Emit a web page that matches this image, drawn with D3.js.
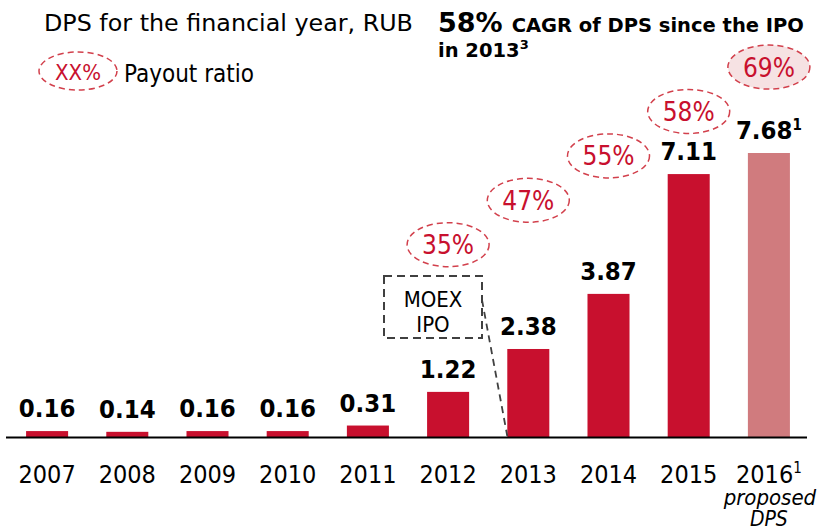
<!DOCTYPE html>
<html>
<head>
<meta charset="utf-8">
<script src="https://cdn.jsdelivr.net/npm/d3@7"></script>
<style>
  html, body { margin: 0; padding: 0; background: #fff; }
  svg text { font-family: "DejaVu Sans Condensed", "DejaVu Sans", sans-serif; font-stretch: condensed; }
  svg text.wide { font-family: "DejaVu Sans", sans-serif; font-stretch: normal; }
</style>
</head>
<body>
<svg id="chart" width="817" height="532"></svg>
<script>
// Data
const years = ['2007', '2008', '2009', '2010', '2011', '2012', '2013', '2014', '2015', '2016'];
const dps = [0.16, 0.14, 0.16, 0.16, 0.31, 1.22, 2.38, 3.87, 7.11, 7.68];
const dpsLabels = ['0.16', '0.14', '0.16', '0.16', '0.31', '1.22', '2.38', '3.87', '7.11', '7.68'];
const payoutYears = ['2012', '2013', '2014', '2015', '2016'];
const payoutRatio = ['35%', '47%', '55%', '58%', '69%'];
const proposedYear = '2016';

const red = '#c8102e';
const pink = '#d07b7e';

const svg = d3.select('#chart');

const x = d3.scaleBand()
  .domain(years)
  .range([7, 809])
  .paddingInner(0.476)
  .paddingOuter(0.238);

const y = d3.scaleLinear()
  .domain([0, 7.68])
  .range([437, 153]);

// Header texts
svg.append('text')
  .attr('class', 'wide')
  .attr('x', 44).attr('y', 31)
  .attr('font-size', '23.8px')
  .attr('fill', '#000')
  .text('DPS for the financial year, RUB');

// Legend
svg.append('ellipse')
  .attr('cx', 78).attr('cy', 71).attr('rx', 39).attr('ry', 19)
  .attr('fill', 'none')
  .attr('stroke', '#d2404c')
  .attr('stroke-width', 1.5)
  .attr('stroke-dasharray', '6,4');

svg.append('text')
  .attr('x', 78).attr('y', 80)
  .attr('text-anchor', 'middle')
  .attr('font-size', '22px')
  .attr('fill', red)
  .text('XX%');

svg.append('text')
  .attr('x', 124).attr('y', 82)
  .attr('font-size', '24px')
  .attr('fill', '#000')
  .text('Payout ratio');

const cagr = svg.append('text')
  .attr('class', 'wide')
  .attr('x', 438).attr('y', 32)
  .attr('font-weight', 'bold')
  .attr('fill', '#000');
cagr.append('tspan').attr('font-size', '27px').text('58%');
cagr.append('tspan').attr('font-size', '19.5px').attr('dx', 9).text('CAGR of DPS since the IPO');

const ipoLine = svg.append('text')
  .attr('class', 'wide')
  .attr('x', 438).attr('y', 57)
  .attr('font-weight', 'bold')
  .attr('font-size', '19.5px')
  .attr('fill', '#000');
ipoLine.append('tspan').text('in 2013');
ipoLine.append('tspan').attr('font-size', '13px').attr('dy', -8).text('3');

// Bars
svg.append('g')
  .selectAll('rect')
  .data(years)
  .join('rect')
  .attr('x', d => x(d))
  .attr('y', (d, i) => y(dps[i]))
  .attr('width', x.bandwidth())
  .attr('height', (d, i) => y(0) - y(dps[i]))
  .attr('fill', d => d === proposedYear ? pink : red);

// Baseline
svg.append('line')
  .attr('x1', 6).attr('x2', 807)
  .attr('y1', 437.5).attr('y2', 437.5)
  .attr('stroke', '#000')
  .attr('stroke-width', 2);

// Value labels
const vals = svg.append('g')
  .selectAll('text')
  .data(years)
  .join('text')
  .attr('x', d => x(d) + x.bandwidth() / 2)
  .attr('y', (d, i) => y(dps[i]) - 14)
  .attr('text-anchor', 'middle')
  .attr('font-weight', 'bold')
  .attr('font-size', '25.5px')
  .attr('fill', '#000');
vals.append('tspan').text((d, i) => dpsLabels[i]);
vals.filter(d => d === proposedYear)
  .append('tspan').attr('font-size', '15px').attr('dy', -9).text('1');

// Year labels
const yl = svg.append('g')
  .selectAll('text')
  .data(years)
  .join('text')
  .attr('x', d => x(d) + x.bandwidth() / 2)
  .attr('y', 483)
  .attr('text-anchor', 'middle')
  .attr('font-size', '25px')
  .attr('fill', '#000');
yl.append('tspan').text(d => d);
yl.filter(d => d === proposedYear)
  .append('tspan').attr('font-size', '15px').attr('dy', -10).text('1');

const px = x(proposedYear) + x.bandwidth() / 2;
svg.append('text')
  .attr('x', px + 1).attr('y', 505)
  .attr('text-anchor', 'middle')
  .attr('font-style', 'italic')
  .attr('font-size', '22px')
  .attr('fill', '#000')
  .text('proposed');
svg.append('text')
  .attr('x', px).attr('y', 526)
  .attr('text-anchor', 'middle')
  .attr('font-style', 'italic')
  .attr('font-size', '21px')
  .attr('fill', '#000')
  .text('DPS');

// Payout ratio bubbles, stepping up diagonally
const bubbles = svg.append('g')
  .selectAll('g')
  .data(payoutYears)
  .join('g')
  .attr('transform', (d, i) => `translate(${x(d) + x.bandwidth() / 2},${244.7 - 44.4 * i})`);

bubbles.append('ellipse')
  .attr('rx', 41).attr('ry', 22)
  .attr('fill', d => d === proposedYear ? '#f6e2e3' : 'none')
  .attr('stroke', '#d2404c')
  .attr('stroke-width', 1.5)
  .attr('stroke-dasharray', '6,4');

bubbles.append('text')
  .attr('y', 9.5)
  .attr('text-anchor', 'middle')
  .attr('font-size', '26px')
  .attr('fill', red)
  .text((d, i) => payoutRatio[i]);

// MOEX IPO callout
svg.append('rect')
  .attr('x', 384).attr('y', 276)
  .attr('width', 98).attr('height', 62)
  .attr('fill', 'none')
  .attr('stroke', '#404040')
  .attr('stroke-width', 2)
  .attr('stroke-dasharray', '8,5');

svg.append('text')
  .attr('x', 433).attr('y', 307)
  .attr('text-anchor', 'middle')
  .attr('font-size', '22px')
  .attr('fill', '#000')
  .text('MOEX');
svg.append('text')
  .attr('x', 433).attr('y', 332)
  .attr('text-anchor', 'middle')
  .attr('font-size', '22px')
  .attr('fill', '#000')
  .text('IPO');

svg.append('line')
  .attr('x1', 482).attr('y1', 300)
  .attr('x2', x('2013')).attr('y2', 436)
  .attr('stroke', '#404040')
  .attr('stroke-width', 1.8)
  .attr('stroke-dasharray', '7,5');
</script>
</body>
</html>
